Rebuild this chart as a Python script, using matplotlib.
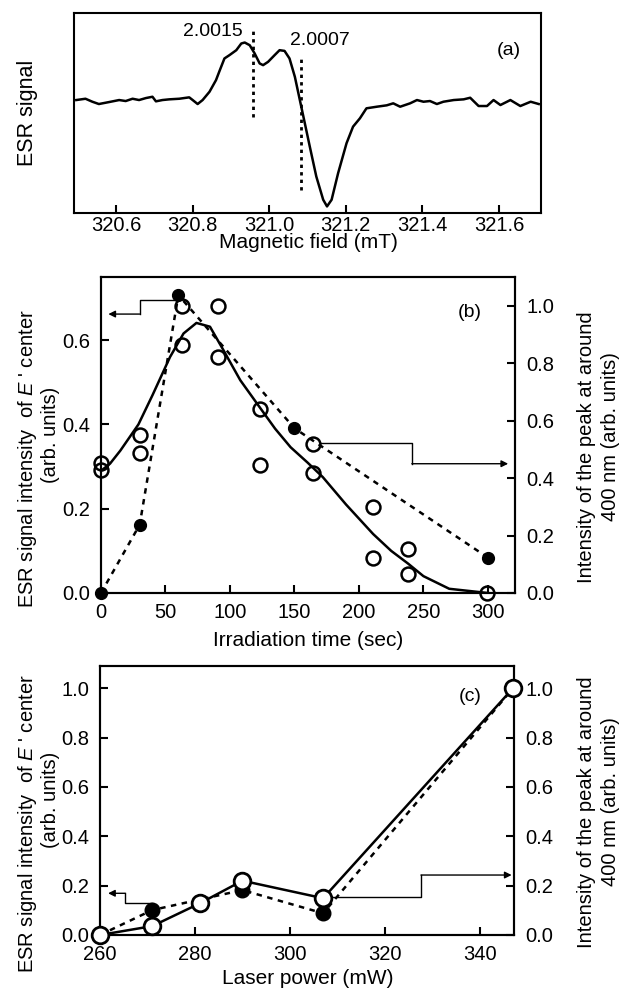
import matplotlib
matplotlib.use("Agg")
import matplotlib.pyplot as plt

plt.rcParams['font.family'] = ['Liberation Sans', 'DejaVu Sans']
plt.rcParams['mathtext.fontset'] = 'custom'
plt.rcParams['mathtext.rm'] = 'Liberation Sans'
plt.rcParams['mathtext.it'] = 'Liberation Sans:italic'

# ==================== DATA ====================
# (a) ESR spectrum
field_mT = [320.496, 320.520, 320.538, 320.555, 320.582, 320.608, 320.625, 320.643,
            320.660, 320.678, 320.695, 320.704, 320.721, 320.739, 320.765, 320.791,
            320.800, 320.813, 320.826, 320.844, 320.861, 320.870, 320.883, 320.896,
            320.914, 320.927, 320.936, 320.949, 320.962, 320.975, 320.984, 320.997,
            321.014, 321.027, 321.040, 321.053, 321.067, 321.080, 321.093, 321.106,
            321.123, 321.141, 321.151, 321.163, 321.180, 321.202, 321.219, 321.237,
            321.254, 321.281, 321.307, 321.324, 321.342, 321.368, 321.386, 321.403,
            321.420, 321.438, 321.455, 321.482, 321.508, 321.525, 321.547, 321.569,
            321.586, 321.604, 321.630, 321.656, 321.683, 321.704]
esr_signal = [0.0, 0.013, -0.017, -0.040, -0.020, 0.0, -0.010, 0.013,
              0.0, 0.020, 0.033, -0.013, 0.0, 0.007, 0.013, 0.027,
              0.0, -0.040, 0.0, 0.083, 0.20, 0.29, 0.417, 0.45,
              0.50, 0.567, 0.577, 0.55, 0.467, 0.367, 0.35, 0.383,
              0.45, 0.50, 0.493, 0.417, 0.233, 0.0, -0.233, -0.467,
              -0.767, -1.0, -1.067, -1.0, -0.733, -0.433, -0.267, -0.183,
              -0.083, -0.067, -0.053, -0.033, -0.067, -0.033, 0.0, -0.017,
              -0.010, -0.040, -0.017, 0.0, 0.007, 0.023, -0.060, -0.060,
              0.0, -0.050, 0.0, -0.060, -0.017, -0.040]
g_marks = [320.957, 321.084]
g_labels = ['2.0015', '2.0007']

# (b) irradiation time dependence
t_esr = [0, 30, 60, 150, 300]
esr_b = [0.0, 0.162, 0.707, 0.391, 0.084]
t_peak = [0, 0, 30, 30, 63, 63, 91, 91, 123, 123, 164, 164, 211, 211, 238, 238, 299]
peak_b = [0.451, 0.427, 0.549, 0.488, 1.0, 0.864, 1.0, 0.82, 0.639, 0.444,
          0.52, 0.417, 0.30, 0.121, 0.153, 0.065, 0.0]
t_fit = [0, 7, 15, 29, 40, 53.5, 64, 74, 84.5, 95, 108, 123, 135, 147, 160, 172,
         190, 211, 225, 238, 250, 270, 300]
fit_b = [0.29, 0.307, 0.338, 0.40, 0.47, 0.56, 0.616, 0.641, 0.632, 0.576, 0.505,
         0.441, 0.39, 0.346, 0.31, 0.275, 0.21, 0.14, 0.10, 0.07, 0.04, 0.01, 0.0]

# (c) laser power dependence
power_esr = [260, 271, 290, 307, 347]
esr_c = [0.0, 0.101, 0.182, 0.088, 1.0]
power_peak = [260, 271, 281, 290, 307, 347]
peak_c = [0.0, 0.036, 0.128, 0.22, 0.149, 1.0]

# axis-pointer arrows (path, last segment gets the head)
arrow_b_left = ([60, 30, 30, 5.7], [0.695, 0.695, 0.662, 0.662])
arrow_b_right = ([170, 241, 241, 315.7], [0.523, 0.523, 0.45, 0.45])
arrow_c_left = ([271, 265.3, 265.3, 261.7], [0.128, 0.128, 0.169, 0.169])
arrow_c_right = ([309, 327.6, 327.6, 346.7], [0.155, 0.155, 0.243, 0.243])

# ==================== FIGURE ====================
W, H = 629, 992
fig = plt.figure(figsize=(W / 100, H / 100), dpi=100)
TICK = 14.5
LAB = 15
VLAB = 14.5
LW = 1.5


def px_axes(l, t, r, b):
    return fig.add_axes([l / W, 1 - b / H, (r - l) / W, (b - t) / H])


def ftext(x, y, s, **kw):
    fig.text(x / W, 1 - y / H, s, **kw)


def style(ax, xpad=7, ypad=8):
    for sp in ax.spines.values():
        sp.set_linewidth(LW)
    ax.tick_params(direction='in', length=6, width=LW, labelsize=TICK)
    ax.tick_params(axis='x', pad=xpad)
    ax.tick_params(axis='y', pad=ypad)


def pointer(ax, path):
    xs, ys = path
    ax.plot(xs[:-1], ys[:-1], color='k', lw=1.0, clip_on=False)
    ax.annotate('', xy=(xs[-1], ys[-1]), xytext=(xs[-2], ys[-2]),
                arrowprops=dict(arrowstyle='-|>', color='k', lw=1.0,
                                mutation_scale=10, shrinkA=0, shrinkB=0),
                annotation_clip=False)


def side_labels(yc):
    # two-line y labels, left and right, around panel centre yc (pixels)
    ftext(28, yc + 24, "ESR signal intensity  of $E$ ' center", fontsize=VLAB,
          rotation=90, ha='center', va='center')
    ftext(51, yc, '(arb. units)', fontsize=VLAB, rotation=90,
          ha='center', va='center')
    ftext(587, yc + 12, 'Intensity of the peak at around', fontsize=VLAB,
          rotation=90, ha='center', va='center')
    ftext(610, yc + 2, '400 nm (arb. units)', fontsize=VLAB, rotation=90,
          ha='center', va='center')


# ---- (a) ----
ax_a = px_axes(74, 13, 541, 213)
style(ax_a, xpad=2)
ax_a.plot(field_mT, esr_signal, color='k', lw=1.8)
ax_a.vlines(g_marks[0], -0.167, 0.717, color='k', lw=2.0, linestyles=(0, (1.2, 1.5)))
ax_a.vlines(g_marks[1], -0.9, 0.417, color='k', lw=2.0, linestyles=(0, (1.2, 1.5)))
ax_a.text(320.93, 0.69, g_labels[0], fontsize=14, ha='right', va='center')
ax_a.text(321.053, 0.60, g_labels[1], fontsize=14, ha='left', va='center')
ax_a.text(321.626, 0.50, '(a)', fontsize=14, ha='center', va='center')
ax_a.set_xlim(320.49, 321.71)
ax_a.set_ylim(-1.133, 0.873)
ax_a.set_xticks([320.6, 320.8, 321.0, 321.2, 321.4, 321.6])
ax_a.set_xticklabels(['320.6', '320.8', '321.0', '321.2', '321.4', '321.6'])
ax_a.set_yticks([])
ftext(308, 243, 'Magnetic field (mT)', fontsize=LAB, ha='center', va='center')
ftext(28, 113, 'ESR signal', fontsize=15.5, rotation=90, ha='center', va='center')

# ---- (b) ----
ax_b = px_axes(101, 277, 515, 593)
style(ax_b)
ax_b2 = ax_b.twinx()
style(ax_b2)
ax_b.plot(t_fit, fit_b, color='k', lw=1.8, zorder=3)
ax_b.plot(t_esr, esr_b, color='k', lw=1.8, ls=(0, (2.2, 2.2)), marker='o',
          markersize=8.5, markerfacecolor='k', markeredgecolor='k',
          clip_on=False, zorder=4)
ax_b2.plot(t_peak, peak_b, ls='none', marker='o', markersize=10,
           markerfacecolor='none', markeredgecolor='k', markeredgewidth=1.8,
           clip_on=False, zorder=5)
pointer(ax_b, arrow_b_left)
pointer(ax_b2, arrow_b_right)
ax_b2.text(286, 0.975, '(b)', fontsize=14, ha='center', va='center')
ax_b.set_xlim(0, 321)
ax_b.set_ylim(0, 0.75)
ax_b2.set_ylim(0, 1.1)
ax_b.set_xticks([0, 50, 100, 150, 200, 250, 300])
ax_b.set_yticks([0.0, 0.2, 0.4, 0.6])
ax_b.set_yticklabels(['0.0', '0.2', '0.4', '0.6'])
ax_b2.set_yticks([0.0, 0.2, 0.4, 0.6, 0.8, 1.0])
ax_b2.set_yticklabels(['0.0', '0.2', '0.4', '0.6', '0.8', '1.0'])
ftext(308, 640, 'Irradiation time (sec)', fontsize=LAB, ha='center', va='center')
side_labels(435)

# ---- (c) ----
ax_c = px_axes(100, 666, 514, 935)
style(ax_c)
ax_c2 = ax_c.twinx()
style(ax_c2)
ax_c.plot(power_esr, esr_c, color='k', lw=1.8, ls=(0, (2.2, 2.2)), marker='o',
          markersize=10.5, markerfacecolor='k', markeredgecolor='k',
          clip_on=False, zorder=3)
ax_c2.plot(power_peak, peak_c, color='k', lw=1.8, marker='o', markersize=12,
           markerfacecolor='white', markeredgecolor='k', markeredgewidth=2.0,
           clip_on=False, zorder=5)
pointer(ax_c, arrow_c_left)
pointer(ax_c2, arrow_c_right)
ax_c2.text(337.9, 0.966, '(c)', fontsize=14, ha='center', va='center')
ax_c.set_xlim(260, 347.2)
ax_c.set_ylim(0, 1.09)
ax_c2.set_ylim(0, 1.09)
ax_c.set_xticks([260, 280, 300, 320, 340])
ticks_c = [0.0, 0.2, 0.4, 0.6, 0.8, 1.0]
ax_c.set_yticks(ticks_c)
ax_c.set_yticklabels(['%.1f' % v for v in ticks_c])
ax_c2.set_yticks(ticks_c)
ax_c2.set_yticklabels(['%.1f' % v for v in ticks_c])
ftext(308, 978, 'Laser power (mW)', fontsize=LAB, ha='center', va='center')
side_labels(800)

fig.savefig('out.png', dpi=100)
